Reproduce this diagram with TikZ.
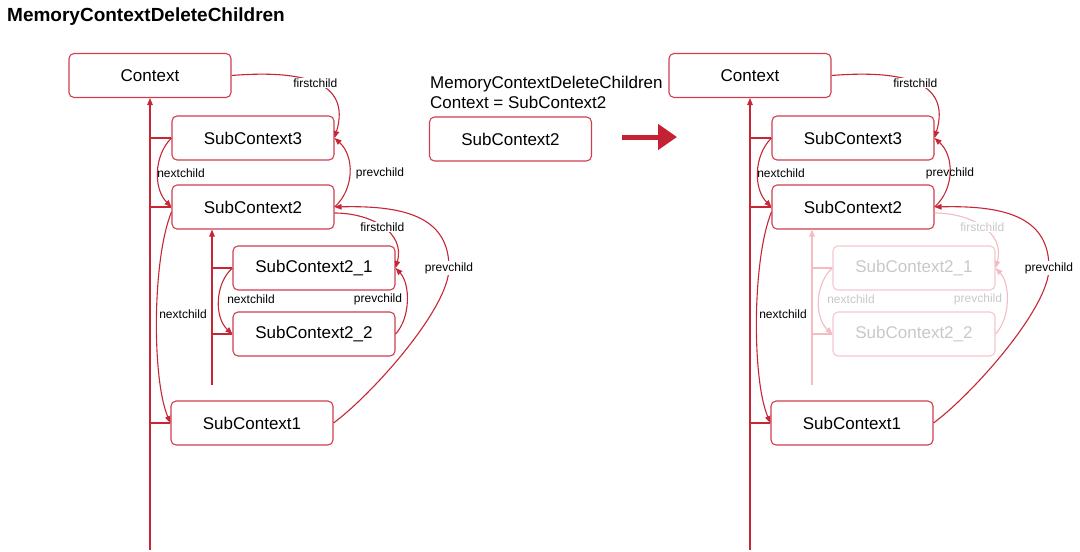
\documentclass[tikz,border=0pt]{standalone}
\usepackage{fontspec}
\setmainfont{Liberation Sans}
\usetikzlibrary{arrows.meta,calc}

\definecolor{boxred}{RGB}{206,62,78}
\definecolor{linkred}{RGB}{198,38,54}
\definecolor{bigred}{RGB}{196,34,50}
\definecolor{fadebox}{RGB}{242,200,205}
\definecolor{fadeline}{RGB}{242,188,194}
\definecolor{fadetext}{RGB}{200,200,200}

\tikzset{
  box/.style={draw=boxred, line width=1.1pt, rounded corners=5pt,
    minimum width=162pt, minimum height=44pt, text=black,
    font=\fontsize{17}{20}\selectfont},
  fbox/.style={box, draw=fadebox, text=fadetext},
  lbl/.style={font=\fontsize{12}{14}\selectfont, inner sep=1pt},
  lblw/.style={lbl, fill=white},
  flbl/.style={lbl, text=fadetext},
  flblw/.style={flbl, fill=white},
  line/.style={draw=linkred, line width=1.1pt},
  link/.style={line, -{Triangle[length=7pt,width=5.5pt]}},
  fline/.style={draw=fadeline, line width=1.1pt},
  flink/.style={fline, -{Triangle[length=7pt,width=5.5pt]}},
}

\begin{document}
\begin{tikzpicture}[x=1pt, y=-1pt]
\useasboundingbox (0,0) rectangle (1080,552);

\node[anchor=west, inner sep=0pt, font=\bfseries\fontsize{19}{22}\selectfont] (title) at (7,17) {MemoryContextDeleteChildren};

% before
\begin{scope}
\node[box] (lctx) at (150,75.5) {Context};
\node[box] (lsc3) at (253,138) {SubContext3};
\node[box] (lsc2) at (253,207) {SubContext2};
\node[box] (lsc21) at (314,268) {SubContext2\_1};
\node[box] (lsc22) at (314,334) {SubContext2\_2};
\node[box] (lsc1) at (252,423) {SubContext1};
\coordinate (lbot) at (150,550);
\coordinate (lbot2) at (212,385);
\coordinate (lpv) at (449,268);

% parent
\draw[link] (lbot) -- (lctx.south);
\draw[line] (lsc3.west) -- (lsc3.west -| lbot);
\draw[line] (lsc2.west) -- (lsc2.west -| lbot);
\draw[line] (lsc1.west) -- (lsc1.west -| lbot);
\draw[link] (lbot2) -- (lbot2 |- lsc2.south);
\draw[line] (lsc21.west) -- (lsc21.west -| lbot2);
\draw[line] (lsc22.west) -- (lsc22.west -| lbot2);

% siblings and children
\draw[link] (lctx.east) .. controls (300,70) and (352,80) .. (lsc3.east) node[lblw, pos=.5] {firstchild};
\draw[link] (lsc3.west) .. controls +(-18,18) and +(-18,-18) .. (lsc2.west);
\node[lbl] (lnx1) at (181,173) {nextchild};
\draw[link] (lsc2.east) .. controls +(20,-18) and +(20,18) .. (lsc3.east);
\node[lbl] (lpv1) at (380,173) {prevchild};
\draw[link] ($(lsc2.east)+(0,6)$) .. controls +(36,0) and +(10,-36) .. (lsc21.east) node[lblw, pos=.5] {firstchild};
\draw[link] (lsc21.west) .. controls +(-18,16) and +(-18,-16) .. (lsc22.west);
\node[lbl] (lnx2) at (251,299) {nextchild};
\draw[link] (lsc22.east) .. controls +(15,-16) and +(15,16) .. (lsc21.east);
\node[lbl] (lpv2) at (378,299) {prevchild};
\draw[link] ($(lsc2.west)+(0,5)$) .. controls (152,260) and (152,380) .. (lsc1.west);
\node[lbl] (lnx3) at (183,314) {nextchild};
\draw[link] (lsc1.east) .. controls +(40,-30) and +(0,40) .. (lpv) .. controls +(0,-48) and +(76,-2) .. (lsc2.east);
\node[lblw] at (lpv) {prevchild};
\end{scope}

% call
\node[anchor=west, align=left, inner sep=0pt, font=\fontsize{17}{20}\selectfont] (call) at (430,92) {MemoryContextDeleteChildren\\Context = SubContext2};
\node[box] (del) at (510.5,139) {SubContext2};
\coordinate (arrS) at (622,137);
\coordinate (arrE) at (677,137);
\draw[draw=bigred, line width=5pt, -{Triangle[length=19pt,width=25pt]}] (arrS) -- (arrE);

% after
\begin{scope}[xshift=600pt]
\node[box] (rctx) at (150,75.5) {Context};
\node[box] (rsc3) at (253,138) {SubContext3};
\node[box] (rsc2) at (253,207) {SubContext2};
\node[fbox] (rsc21) at (314,268) {SubContext2\_1};
\node[fbox] (rsc22) at (314,334) {SubContext2\_2};
\node[box] (rsc1) at (252,423) {SubContext1};
\coordinate (rbot) at (150,550);
\coordinate (rbot2) at (212,385);
\coordinate (rpv) at (449,268);

% parent
\draw[flink] (rbot2) -- (rbot2 |- rsc2.south);
\draw[fline] (rsc21.west) -- (rsc21.west -| rbot2);
\draw[fline] (rsc22.west) -- (rsc22.west -| rbot2);
\draw[link] (rbot) -- (rctx.south);
\draw[line] (rsc3.west) -- (rsc3.west -| rbot);
\draw[line] (rsc2.west) -- (rsc2.west -| rbot);
\draw[line] (rsc1.west) -- (rsc1.west -| rbot);

% deleted children
\draw[flink] ($(rsc2.east)+(0,6)$) .. controls +(36,0) and +(10,-36) .. (rsc21.east) node[flblw, pos=.5] {firstchild};
\draw[flink] (rsc21.west) .. controls +(-18,16) and +(-18,-16) .. (rsc22.west);
\node[flbl] (rnx2) at (251,299) {nextchild};
\draw[flink] (rsc22.east) .. controls +(15,-16) and +(15,16) .. (rsc21.east);
\node[flbl] (rpv2) at (378,299) {prevchild};

% siblings
\draw[link] (rctx.east) .. controls (300,70) and (352,80) .. (rsc3.east) node[lblw, pos=.5] {firstchild};
\draw[link] (rsc3.west) .. controls +(-18,18) and +(-18,-18) .. (rsc2.west);
\node[lbl] (rnx1) at (181,173) {nextchild};
\draw[link] (rsc2.east) .. controls +(20,-18) and +(20,18) .. (rsc3.east);
\node[lbl] (rpv1) at (350,173) {prevchild};
\draw[link] ($(rsc2.west)+(0,5)$) .. controls (152,260) and (152,380) .. (rsc1.west);
\node[lbl] (rnx3) at (183,314) {nextchild};
\draw[link] (rsc1.east) .. controls +(40,-30) and +(0,40) .. (rpv) .. controls +(0,-48) and +(76,-2) .. (rsc2.east);
\node[lblw] at (rpv) {prevchild};
\end{scope}
\end{tikzpicture}
\end{document}
